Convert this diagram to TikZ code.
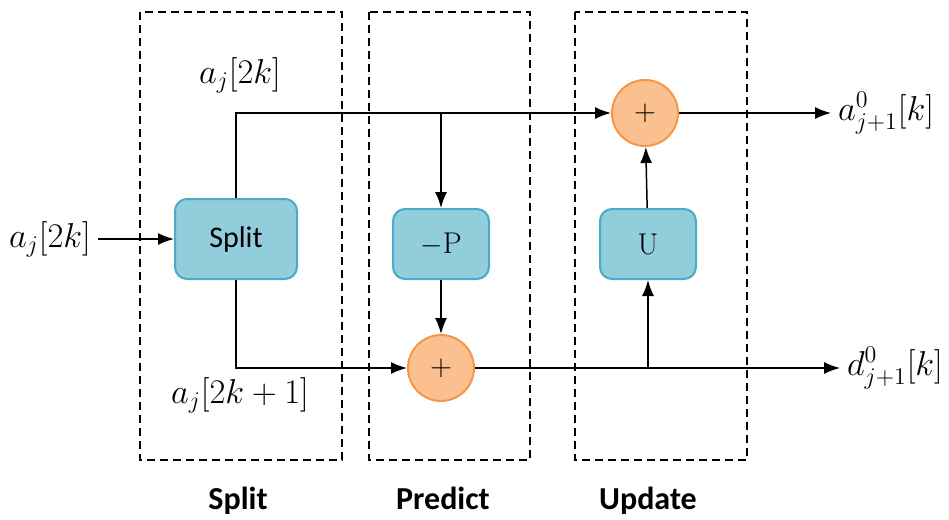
\documentclass[tikz,border=0pt]{standalone}
\usepackage{amsmath}
\usepackage{fontspec}
\newfontfamily\carlito{Carlito}
\usetikzlibrary{arrows.meta, positioning}
\tikzset{>={Latex[length=8pt,width=6pt]}}
\definecolor{boxfill}{RGB}{146,205,220}
\definecolor{boxedge}{RGB}{75,172,198}
\definecolor{adderfill}{RGB}{250,192,144}
\definecolor{adderedge}{RGB}{247,150,70}
\tikzstyle{block}=[draw=boxedge, fill=boxfill, line width=1pt, rounded corners=6pt, minimum width=48pt, minimum height=35pt]
\tikzstyle{adder}=[circle, draw=adderedge, fill=adderfill, line width=1pt, minimum size=33pt, inner sep=0]
\tikzstyle{stage}=[line width=1pt, dash pattern=on 4pt off 2.5pt]
\tikzstyle{connect}=[line width=0.75pt]
\tikzstyle{caption}=[anchor=base, font=\carlito\bfseries\fontsize{16}{19}\selectfont]
\tikzstyle{signal}=[font=\fontsize{16.5}{20}\selectfont]

\begin{document}
\begin{tikzpicture}[x=0.5pt, y=-0.5pt, font=\fontsize{15}{18}\selectfont]
  \useasboundingbox (0,0) rectangle (949,520);

  % stages
  \draw[stage] (140,12) rectangle (342,460);
  \draw[stage] (369,12) rectangle (530,460);
  \draw[stage] (575,12) rectangle (747,460);
  \node[caption] (capsplit) at (238,509) {Split};
  \node[caption] (cappred) at (443,509) {Predict};
  \node[caption] (capupd) at (648,509) {Update};

  % blocks
  \node[block, minimum width=61pt, minimum height=40pt] (split) at (236,239) {\carlito Split};
  \node[block] (pred) at (441,244) {$-\mathrm{P}$};
  \node[block] (upd) at (648,244) {$\mathrm{U}$};
  \node[adder] (addA) at (645,113) {$+$};
  \node[adder] (addD) at (441,368) {$+$};

  % labels
  \node[signal] (xin) at (50,239) {$a_j[2k]$};
  \node[signal] (even) at (240,75) {$a_j[2k]$};
  \node[signal] (odd) at (240,395) {$a_j[2k+1]$};
  \node[signal] (aout) at (886,113) {$a^0_{j+1}[k]$};
  \node[signal] (dout) at (895,368) {$d^0_{j+1}[k]$};

  % connections
  \draw[connect, ->] (xin) -- (split.west);
  \draw[connect, ->] (split.north) |- (addA.west);
  \draw[connect, ->] (split.south) |- (addD.west);
  \draw[connect, ->] (pred.north |- addA) -- (pred.north);
  \draw[connect, ->] (pred) -- (addD);
  \draw[connect, ->] (upd.south |- addD) -- (upd.south);
  \draw[connect, ->] (upd) -- (addA);
  \draw[connect, ->] (addA) -- (aout);
  \draw[connect, ->] (addD) -- (dout);
\end{tikzpicture}
\end{document}
